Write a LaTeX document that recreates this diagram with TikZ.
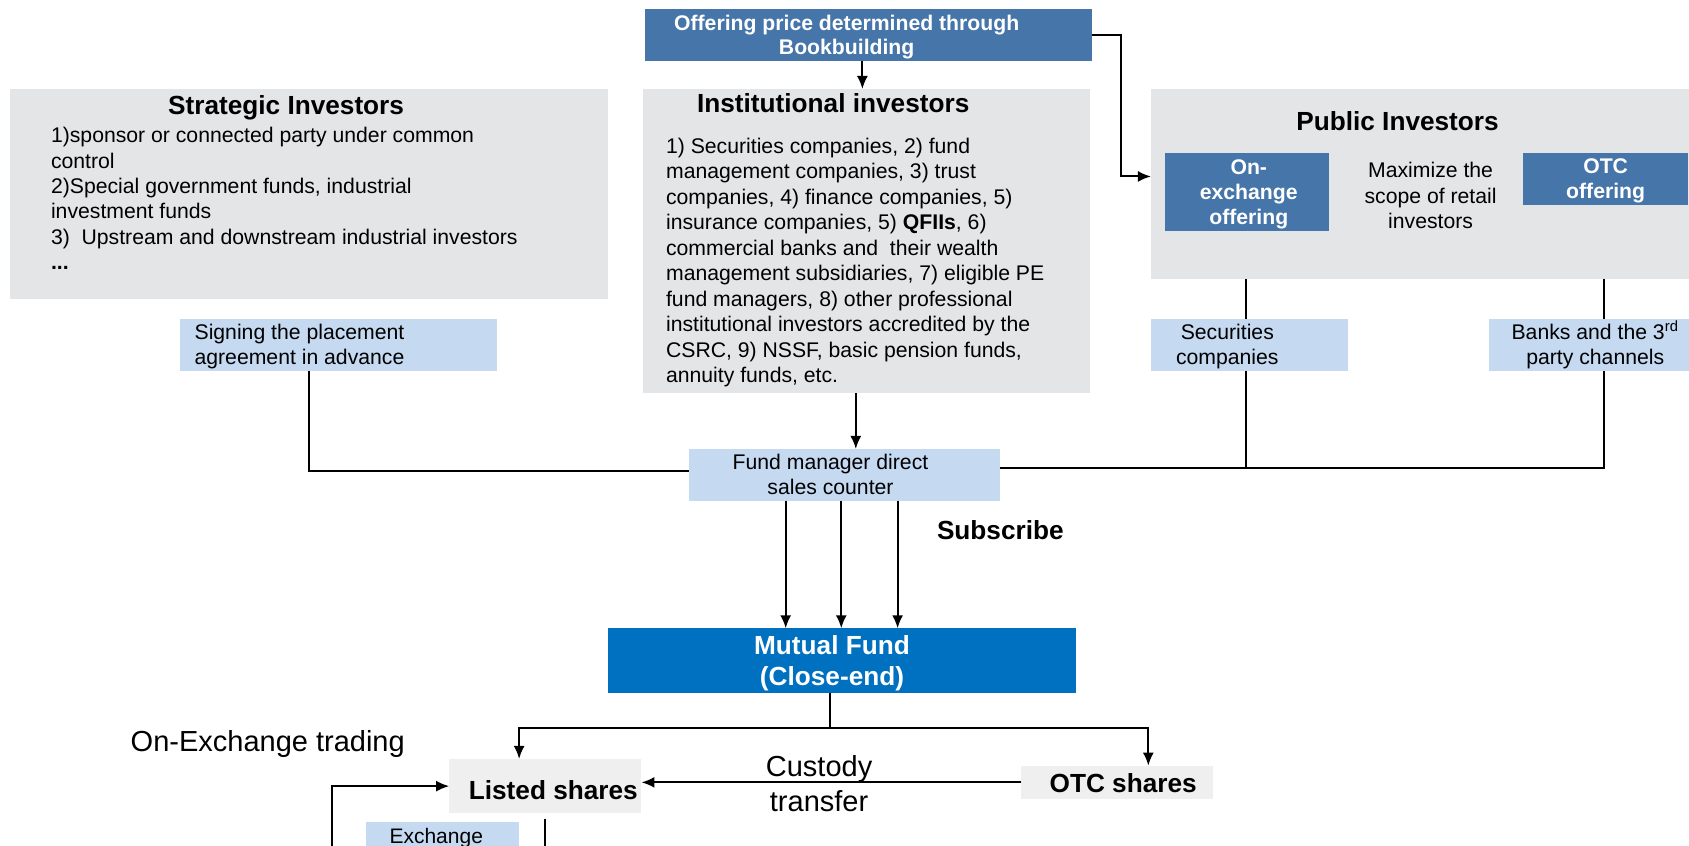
\documentclass[tikz,border=0pt]{standalone}
\usepackage{fontspec}
\setmainfont{Liberation Sans}
\usetikzlibrary{arrows.meta}

\newcommand\px{0.5386pt}
\definecolor{steel}{RGB}{70,117,169}
\definecolor{fundblue}{RGB}{0,112,192}
\definecolor{panel}{RGB}{228,229,231}
\definecolor{pale}{RGB}{197,217,241}
\definecolor{sharegray}{RGB}{239,239,239}

\tikzset{
	sz/.style 2 args={minimum width=#1*\px, minimum height=#2*\px},
	box/.style={inner sep=0pt, outer sep=0pt, draw=none},
	panelbox/.style={box, fill=panel},
	palebox/.style={box, fill=pale},
	steelbox/.style={box, fill=steel},
	txt/.style={inner sep=0pt, align=left, font=\fontsize{10.6}{12.75}\selectfont},
	ctxt/.style={inner sep=0pt, align=center, font=\fontsize{10.6}{12.6}\selectfont},
	wtxt/.style={inner sep=0pt, align=center, text=white, font=\bfseries\fontsize{10.6}{12.7}\selectfont},
	head/.style={inner sep=0pt, align=center, font=\bfseries\fontsize{13.1}{15.5}\selectfont},
	big/.style={inner sep=0pt, align=center, font=\fontsize{14.5}{17.5}\selectfont},
	line/.style={line width=1pt},
	arr/.style={line width=1pt, -{Latex[length=6.5pt,width=5.5pt]}},
}

\begin{document}
\begin{tikzpicture}[x=\px, y=-\px]
	\useasboundingbox (0,0) rectangle (1568,785);
	\clip (0,0) rectangle (1568,785);
	\fill[white] (0,0) rectangle (1568,785);

	% boxes
	\node[steelbox, sz={414.6}{48.2}] (offer) at (806.1,32.5) {};
	\node[panelbox, sz={555.4}{195.3}] (strat) at (287,180.25) {};
	\node[panelbox, sz={415}{282.4}] (inst) at (804.5,223.8) {};
	\node[panelbox, sz={551.5}{176.4}] (pub) at (1344.25,170.8) {};
	\node[steelbox, sz={152.7}{72.1}] (onex) at (1157.85,178.05) {};
	\node[steelbox, sz={152.8}{48}] (otcoff) at (1490.4,166) {};
	\node[palebox, sz={294.7}{47.9}] (sign) at (314.35,320.15) {};
	\node[palebox, sz={182.9}{47.9}] (secur) at (1159.95,320.15) {};
	\node[palebox, sz={213.5}{47.9}] (banks) at (1489.25,320.15) {};
	\node[palebox, sz={288}{48}] (fund) at (784,440.8) {};
	\node[box, fill=fundblue, sz={434.3}{59.7}] (mutual) at (781.85,613.15) {};
	\node[box, fill=sharegray, sz={178.5}{50.4}] (listed) at (506.25,729.8) {};
	\node[box, fill=sharegray, sz={178.5}{31}] (otcsh) at (1036.75,726.3) {};
	\node[palebox, sz={142}{27}] (exch) at (411,776.5) {};

	% texts (multi-line ones sit on the baseline of their last line)
	\node[wtxt, font=\bfseries\fontsize{10.6}{11.8}\selectfont, anchor=base] (offertxt) at (786,50.4) {Offering price determined through\\Bookbuilding};
	\node[head, anchor=base] (strathead) at (265.6,106) {Strategic Investors};
	\node[txt, font=\fontsize{10.6}{12.7}\selectfont, anchor=base west] (strattxt) at (47,250.4) {1)sponsor or connected party under common\\control\\2)Special government funds, industrial\\investment funds\\3)\ \ Upstream and downstream industrial investors\\\textbf{...}};
	\node[head, anchor=base west] (insthead) at (646.8,104.6) {Institutional investors};
	\node[txt, anchor=base west] (insttxt) at (618,355.5) {1) Securities companies, 2) fund\\management companies, 3) trust\\companies, 4) finance companies, 5)\\insurance companies, 5) \textbf{QFIIs}, 6)\\commercial banks and\ \ their wealth\\management subsidiaries, 7) eligible PE\\fund managers, 8) other professional\\institutional investors accredited by the\\CSRC, 9) NSSF, basic pension funds,\\annuity funds, etc.};
	\node[head, anchor=base] (pubhead) at (1297.4,120.7) {Public Investors};
	\node[wtxt, anchor=base] (onextxt) at (1159.3,208.8) {On-\\exchange\\offering};
	\node[ctxt, font=\fontsize{10.6}{12.8}\selectfont, anchor=base] (maxtxt) at (1328.1,212.3) {Maximize the\\scope of retail\\investors};
	\node[wtxt, anchor=base] (otcofftxt) at (1490.6,184.3) {OTC\\offering};
	\node[txt, font=\fontsize{10.6}{12.2}\selectfont, anchor=base west] (signtxt) at (180.3,338.2) {Signing the placement\\agreement in advance};
	\node[ctxt, font=\fontsize{10.6}{12.4}\selectfont, anchor=base] (sectxt) at (1139.4,338) {Securities\\companies};
	\node[ctxt, font=\fontsize{10.6}{12.4}\selectfont, anchor=base] (bankstxt) at (1481,338) {Banks and the 3\textsuperscript{rd}\\party channels};
	\node[ctxt, font=\fontsize{10.6}{12.5}\selectfont, anchor=base] (fundtxt) at (771,459.5) {Fund manager direct\\sales counter};
	\node[head, anchor=base west] (subscr) at (869.5,501.3) {Subscribe};
	\node[head, text=white, anchor=base] (mutualtxt) at (772.4,636.8) {Mutual Fund\\(Close-end)};
	\node[big, anchor=base west] (onextrade) at (121,697.8) {On-Exchange trading};
	\node[head, anchor=base] (listedtxt) at (513.7,742) {Listed shares};
	\node[head, anchor=base] (otcshtxt) at (1042.7,735.9) {OTC shares};
	\node[big, anchor=base] (custody) at (760.4,753.5) {Custody\\transfer};
	\node[txt, font=\fontsize{10.5}{12.6}\selectfont, anchor=base] (exchtxt) at (405,783.5) {Exchange};

	% connectors
	\draw[arr] ([xshift=-5.5*\px]offer.south) -- ([xshift=-5.5*\px]offer.south |- inst.north);
	\draw[arr] (offer.east) -- ++(27.5,0) |- ([yshift=7*\px]pub.west);
	\draw[arr] ([xshift=-10*\px]inst.south) -- ([xshift=-10*\px]inst.south |- fund.north);
	\draw[line] ([xshift=-27.5*\px]sign.south) |- ([yshift=4*\px]fund.west);
	\path ([yshift=6.5*\px]fund.east) coordinate (busR);
	\draw[line] (busR) -| (banks.south);
	\draw[line] ([xshift=-3*\px]secur.south) -- ([xshift=-3*\px]secur.south |- busR);
	\draw[line] ([xshift=-3*\px]secur.north |- pub.south) -- ([xshift=-3*\px]secur.north);
	\draw[line] (banks.north |- pub.south) -- (banks.north);
	\foreach \dx in {-54.6,-3,49.3}
		\draw[arr] ([xshift=\dx*\px]fund.south) -- ([xshift=\dx*\px]fund.south |- mutual.north);
	\draw[arr] ([xshift=-11.4*\px]mutual.south) -- ++(0,33.2) -| ([xshift=-24.3*\px]listed.north);
	\draw[arr] ([xshift=-11.4*\px]mutual.south) -- ++(0,33.2) -| ([xshift=29.3*\px]otcsh.north);
	\draw[arr] (otcsh.west) -- (otcsh.west -| listed.east);
	\coordinate (loopin) at (308,800);
	\draw[arr] (loopin) |- (listed.west);
	\coordinate (exitdn) at (507,800);
	\draw[line] ([yshift=-5*\px]listed.south) -- (listed.south |- exitdn);
\end{tikzpicture}
\end{document}
